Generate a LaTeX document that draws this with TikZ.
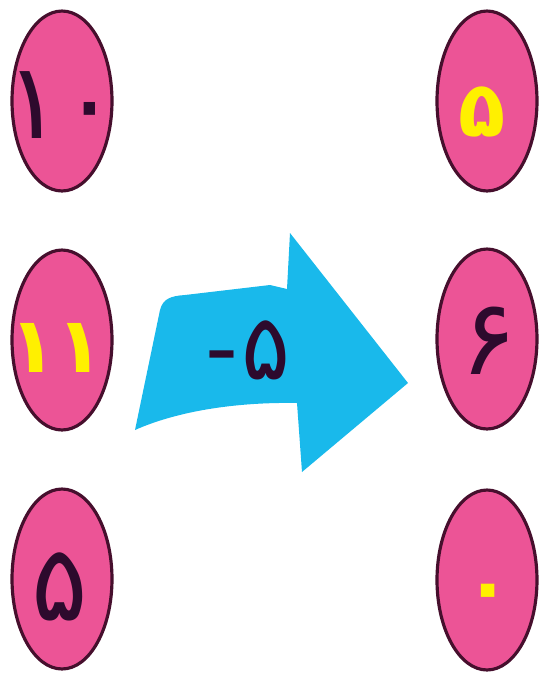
\documentclass[tikz,border=0pt]{standalone}
\usepackage{fontspec}
\usetikzlibrary{shapes.geometric}
\newfontfamily\fafont[Script=Arabic]{DejaVu Sans}
\definecolor{ballpink}{RGB}{236,84,150}
\definecolor{balledge}{RGB}{70,15,45}
\definecolor{arrowcyan}{RGB}{25,185,235}
\definecolor{digitdark}{RGB}{45,10,45}
\definecolor{markyellow}{RGB}{255,240,0}

\begin{document}
\begin{tikzpicture}[x=0.02cm,y=-0.02cm,
  ball/.style={ellipse,draw=balledge,line width=1.8pt,fill=ballpink,minimum width=2cm,minimum height=3.6cm,inner sep=0pt},
  digit/.style={text=digitdark,inner sep=0pt,font=\fafont\fontsize{60}{60}\selectfont},
  answer/.style={text=markyellow,inner sep=0pt,font=\fafont\bfseries\fontsize{44}{44}\selectfont}]
\useasboundingbox (0,0) rectangle (542,691);
% ==================== LEFT COLUMN ====================
\node[ball] (a1) at (62,101) {};
\node[ball] (a2) at (62,340) {};
\node[ball] (a3) at (62,579) {};
\node[digit] (a1n) at (62,105) {۱۰};
\node[answer] (a2n) at (57,348) {۱۱};
\node[digit] (a3n) at (60,587) {۵};
% ==================== RIGHT COLUMN ====================
\node[ball] (b1) at (487,101) {};
\node[ball] (b2) at (487,339) {};
\node[ball] (b3) at (487,580) {};
\node[answer] (b1n) at (482,112) {۵};
\node[digit] (b2n) at (489,341) {۶};
\node[answer] (b3n) at (488,598) {۰};
% ==================== MIDDLE ARROW ====================
\fill[arrowcyan] (135,430) -- (160,310) .. controls (163,299) and (170,296) .. (185,295)
  -- (270,285) -- (287,289) -- (290,233) -- (408,383) -- (302,472) -- (297,403)
  .. controls (240,402) and (180,410) .. (135,430) -- cycle;
\node[digit,font=\fafont\fontsize{52}{52}\selectfont] (step5) at (248,350) {-\kern2pt ۵};
\end{tikzpicture}
\end{document}
